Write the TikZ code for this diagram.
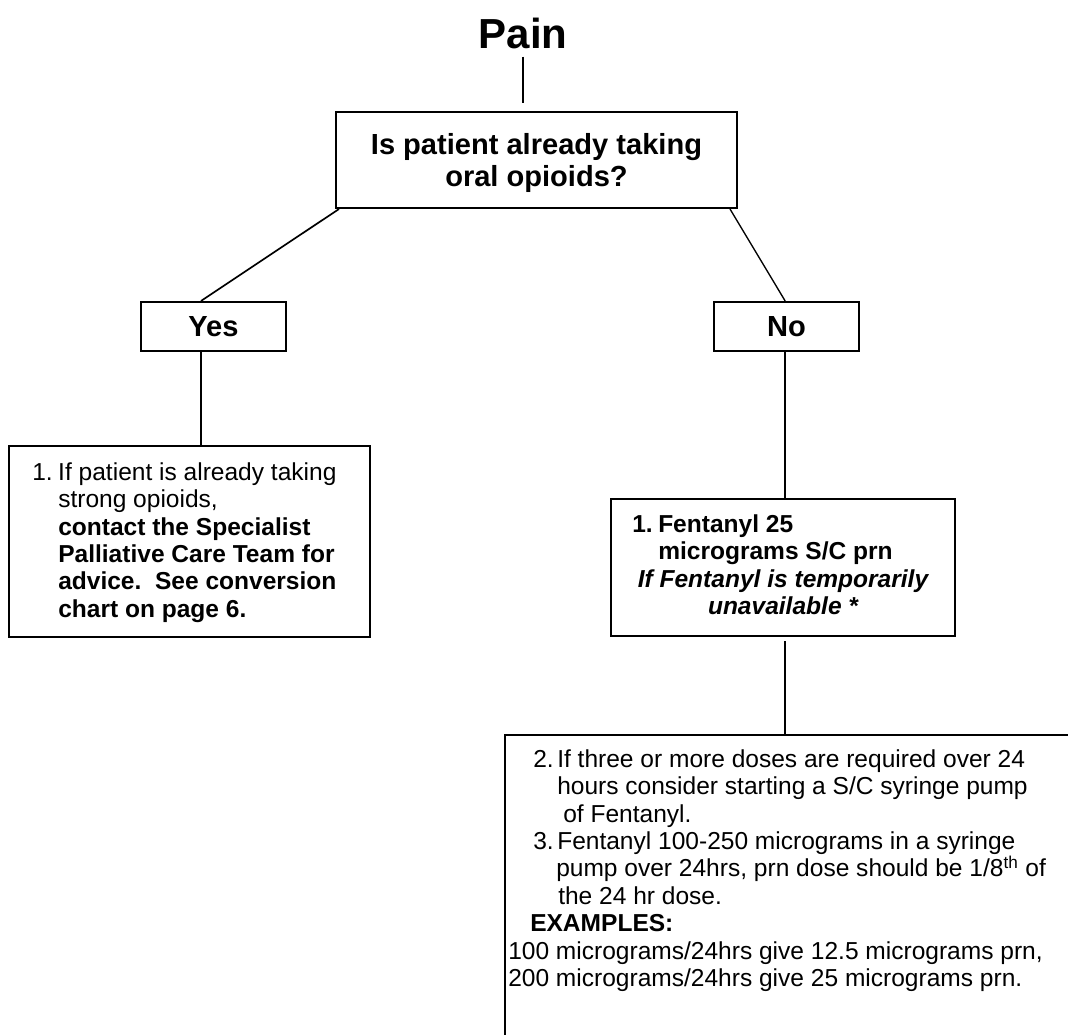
\documentclass[tikz,border=0pt]{standalone}
\usepackage{fontspec}
\setmainfont{Liberation Sans}
\usetikzlibrary{fit}
\begin{document}
\begin{tikzpicture}[x=0.75pt,y=-0.75pt,
  box/.style={draw=black, line width=1.5pt, inner sep=0pt},
  conn/.style={draw=black, line width=1.25pt},
  thinconn/.style={draw=black, line width=1pt},
  qtext/.style={font=\fontsize{21.8pt}{24.4pt}\selectfont\bfseries, align=center, inner sep=0pt},
  body/.style={font=\fontsize{18.4pt}{20.55pt}\selectfont, inner sep=0pt, anchor=north west, align=left},
  ctext/.style={font=\fontsize{18.4pt}{20.55pt}\selectfont\bfseries\itshape, inner sep=0pt, anchor=north, align=center}
  ]
\useasboundingbox (0,0) rectangle (1068,1035);
\clip (0,0) rectangle (1068,1035);
% title
\node[font=\fontsize{31.5pt}{36pt}\selectfont\bfseries, inner sep=0pt, anchor=base] (pain) at (523,48) {Pain};
% boxes
\node[box, fit={(336,112) (737,208)}] (q) {};
\node[box, fit={(141,302) (286,351)}] (yes) {};
\node[box, fit={(714,302) (859,351)}] (no) {};
\node[box, fit={(9,446) (370,637)}] (lbox) {};
\node[box, fit={(611,499) (955,636)}] (mbox) {};
\node[box, fit={(505,735) (1120,1120)}] (bbox) {};
% box labels
\node[qtext] (qt) at ([yshift=-2.25pt]q.center) {Is patient already taking\\oral opioids?};
\node[qtext] (yt) at (yes.center) {Yes};
\node[qtext] (nt) at (no.center) {No};
% connectors
\draw[conn, shorten <=6pt, shorten >=6pt] (pain.south) -- (pain.south |- q.north);
\draw[conn] ([xshift=3pt]q.south west) -- ([xshift=-9.4pt]yes.north);
\draw[thinconn] ([xshift=-6pt]q.south east) -- ([xshift=-1pt]no.north);
\draw[conn] ([xshift=-9.4pt]yes.south) -- ([xshift=-9.4pt]yes.south |- lbox.north);
\draw[conn] ([xshift=-1pt]no.south) -- ([xshift=-1pt]no.south |- mbox.north);
\draw[conn, shorten <=3pt] ([xshift=1.5pt]mbox.south) -- ([xshift=1.5pt]mbox.south |- bbox.north);
% left box text
\node[body] (ltext) at (32,455.5) {\rule{0pt}{18.4pt}\makebox[19.5pt][l]{1.}If patient is already taking\\
\hspace*{19.5pt}strong opioids,\\
\hspace*{19.5pt}\textbf{contact the Specialist}\\
\hspace*{19.5pt}\textbf{Palliative Care Team for}\\
\hspace*{19.5pt}\textbf{advice.\ \ See conversion}\\
\hspace*{19.5pt}\textbf{chart on page 6.}};
% middle box text
\node[body, font=\fontsize{18.4pt}{20.55pt}\selectfont\bfseries] (mtext) at (632,507.5) {\rule{0pt}{18.4pt}\makebox[19.5pt][l]{1.}Fentanyl 25\\
\hspace*{19.5pt}micrograms S/C prn};
\node[ctext] (mtext2) at (783,562.3) {\rule{0pt}{18.4pt}If Fentanyl is temporarily\\unavailable *};
% bottom box text
\node[body] (btext) at (508,742.5) {\rule{0pt}{18.4pt}\hspace*{18.75pt}\makebox[18pt][l]{2.}If three or more doses are required over 24\\
\hspace*{36.75pt}hours consider starting a S/C syringe pump\\
\hspace*{41.25pt}of Fentanyl.\\
\hspace*{18.75pt}\makebox[18pt][l]{3.}Fentanyl 100-250 micrograms in a syringe\\
\hspace*{36pt}pump over 24hrs, prn dose should be 1/8\textsuperscript{th} of\\
\hspace*{37.5pt}the 24 hr dose.\\
\hspace*{16.5pt}\textbf{EXAMPLES:}\\
100 micrograms/24hrs give 12.5 micrograms prn,\\
200 micrograms/24hrs give 25 micrograms prn.};
\end{tikzpicture}
\end{document}
